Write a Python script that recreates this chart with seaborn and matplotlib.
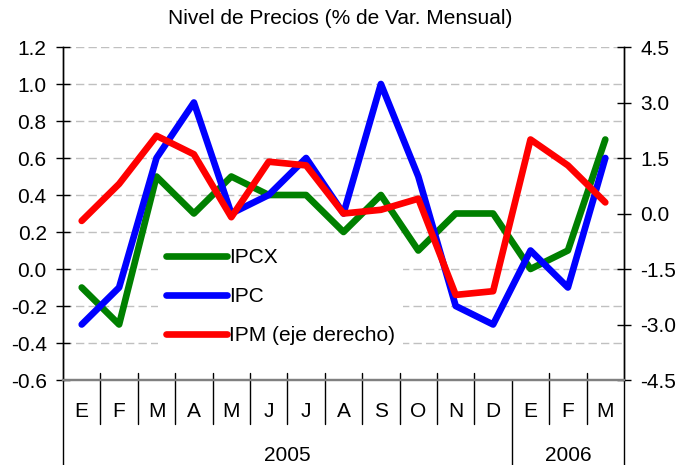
import matplotlib
matplotlib.use("Agg")
import matplotlib.pyplot as plt
import seaborn as sns
import pandas as pd
import numpy as np

months = ["E", "F", "M", "A", "M", "J", "J", "A", "S", "O", "N", "D", "E", "F", "M"]
years = ["2005", "2006"]
year_counts = [12, 3]
ipcx = [-0.1, -0.3, 0.5, 0.3, 0.5, 0.4, 0.4, 0.2, 0.4, 0.1, 0.3, 0.3, 0.0, 0.1, 0.7]
ipc = [-0.3, -0.1, 0.6, 0.9, 0.3, 0.4, 0.6, 0.3, 1.0, 0.5, -0.2, -0.3, 0.1, -0.1, 0.6]
ipm = [-0.2, 0.8, 2.1, 1.6, -0.1, 1.4, 1.3, 0.0, 0.1, 0.4, -2.2, -2.1, 2.0, 1.3, 0.3]
left_ticks = [-0.6, -0.4, -0.2, 0.0, 0.2, 0.4, 0.6, 0.8, 1.0, 1.2]
right_ticks = [-4.5, -3.0, -1.5, 0.0, 1.5, 3.0, 4.5]
title = "Nivel de Precios (% de Var. Mensual)"
labels = ["IPCX", "IPC", "IPM (eje derecho)"]

sns.set_theme(style="white")
plt.rcParams["font.family"] = ["Liberation Sans", "DejaVu Sans"]
plt.rcParams["axes.unicode_minus"] = False
for k in ("text.color", "axes.labelcolor", "xtick.color", "ytick.color",
          "xtick.labelcolor", "ytick.labelcolor"):
    plt.rcParams[k] = "black"
FS = 15

df = pd.DataFrame({"idx": np.arange(len(months)), "IPCX": ipcx, "IPC": ipc, "IPM": ipm})

fig = plt.figure(figsize=(6.78, 4.65), dpi=100)
W, H = 678, 465
x0, x1, ytop, ybot = 63, 624, 47, 380
ax = fig.add_axes([x0 / W, 1 - ybot / H, (x1 - x0) / W, (ybot - ytop) / H])
ax2 = ax.twinx()

lw = 4.8
sns.lineplot(data=df, x="idx", y="IPCX", ax=ax, color="#008000", lw=lw, label=labels[0], legend=False)
sns.lineplot(data=df, x="idx", y="IPC", ax=ax, color="#0000FF", lw=lw, label=labels[1], legend=False)
sns.lineplot(data=df, x="idx", y="IPM", ax=ax2, color="#FF0000", lw=lw, label=labels[2], legend=False)

ax.set_xlim(-0.5, len(months) - 0.5)
ax.set_ylim(-0.6, 1.2)
ax2.set_ylim(-4.5, 4.5)
ax.set_yticks(left_ticks)
ax.set_yticklabels([f"{v:.1f}" for v in left_ticks], fontsize=FS, color="black")
ax2.set_yticks(right_ticks)
ax2.set_yticklabels([f"{v:.1f}" for v in right_ticks], fontsize=FS, color="black")
ax.set_xlabel("")
ax.set_ylabel("")
ax2.set_ylabel("")

ax.yaxis.grid(True, color="#c0c0c0", lw=1, linestyle=(0, (6, 3)))
ax.set_axisbelow(True)
ax.tick_params(axis="y", direction="inout", length=9.5, width=1, color="black", pad=7, left=True)
ax2.tick_params(axis="y", direction="inout", length=9.5, width=1, color="black", pad=7, right=True)

ax.set_xticks(range(len(months)))
ax.set_xticklabels(months, fontsize=FS, color="black")
ax.tick_params(axis="x", length=0, pad=16)

for a in (ax, ax2):
    a.spines["top"].set_visible(False)
    a.spines["bottom"].set_color("#808080")
    a.spines["bottom"].set_linewidth(1.6)
    a.spines["left"].set_color("black")
    a.spines["right"].set_color("black")
    a.spines["left"].set_linewidth(1)
    a.spines["right"].set_linewidth(1)

tr = ax.get_xaxis_transform()
ah = ybot - ytop
bounds = np.arange(len(months) + 1) - 0.5
year_bounds = list(np.cumsum([0] + year_counts) - 0.5)
for b in bounds:
    if b in year_bounds:
        ax.plot([b, b], [0, -85 / ah], transform=tr, color="black", lw=1, clip_on=False)
    else:
        ax.plot([b, b], [7 / ah, -44 / ah], transform=tr, color="black", lw=1, clip_on=False)
for i, y in enumerate(years):
    c = (year_bounds[i] + year_bounds[i + 1]) / 2
    ax.text(c, -75 / ah, y, transform=tr, ha="center", va="center", fontsize=FS, color="black")

fig.text(340 / W, 1 - 19 / H, title, ha="center", va="center", fontsize=FS, color="black")

h1, l1 = ax.get_legend_handles_labels()
h2, l2 = ax2.get_legend_handles_labels()
leg = ax2.legend(h1 + h2, l1 + l2, loc="upper left", bbox_to_anchor=(158 / W, 1 - 240 / H),
                 bbox_transform=fig.transFigure, borderaxespad=0, fontsize=FS,
                 handlelength=2.9, handletextpad=0.1, labelspacing=0.95, labelcolor="black",
                 frameon=True, facecolor="white", framealpha=1, edgecolor="white", fancybox=False)
leg.get_frame().set_linewidth(0)

fig.savefig("out.png", dpi=100)
